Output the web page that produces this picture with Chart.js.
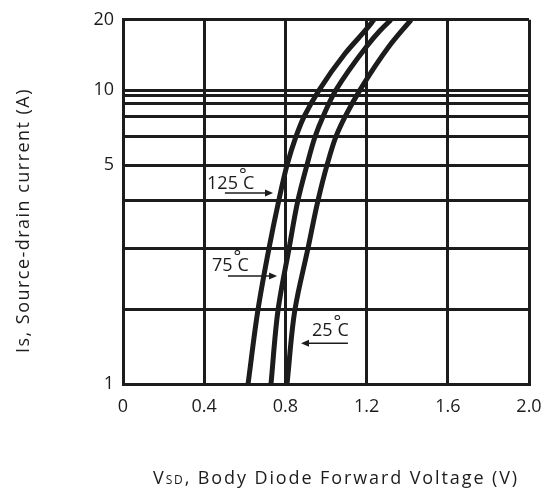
<!DOCTYPE html>
<html>
<head>
<meta charset="utf-8">
<script src="https://cdn.jsdelivr.net/npm/chart.js@4.4.1/dist/chart.umd.min.js"></script>
<style>
    body { margin: 0; background: #fff; }
    canvas { display: block; }
</style>
</head>
<body>
<canvas id="vfChart" width="544" height="488"></canvas>
<script>
// Body diode forward voltage vs source-drain current, three junction temperatures
const tempLabels = ['125', '75', '25'];

// forward voltage (V), with the matching current (A)
const vf125 = [0.616, 0.665, 0.719, 0.768, 0.808, 0.852, 0.892, 0.966, 1.094, 1.200, 1.236];
const is125 = [1, 2, 3, 4, 5, 6, 7, 10, 15.2, 18.7, 20];

const vf75 = [0.729, 0.764, 0.818, 0.862, 0.906, 0.946, 0.985, 1.049, 1.200, 1.261, 1.320];
const is75 = [1, 2, 3, 4, 5, 6, 7, 10, 16.2, 18.3, 20];

const vf25 = [0.808, 0.847, 0.911, 0.961, 1.005, 1.049, 1.094, 1.167, 1.310, 1.419];
const is25 = [1, 2, 3, 4, 5, 6, 7, 10, 16.2, 20];

const xTicks = [0, 0.4, 0.8, 1.2, 1.6, 2.0];
const yGrid = [1, 2, 3, 4, 5, 6, 7, 8, 9, 10, 20];
const yLabels = [1, 5, 10, 20];

// The datasheet's current axis is hand drawn: its rows are not evenly logarithmic,
// so the axis is warped piecewise through where each row sits (0 = bottom, 1 = top)
const yGridFractions = [0, 0.204, 0.372, 0.505, 0.601, 0.679, 0.734, 0.769, 0.793, 0.807, 1];

const ink = '#1c1c1c';
const fontFamily = '"Open Sans", "Noto Sans", sans-serif';

function interp(v, from, to) {
    let i = 1;
    while (i < from.length - 1 && v > from[i]) i++;
    const t = (v - from[i - 1]) / (from[i] - from[i - 1]);
    return to[i - 1] + t * (to[i] - to[i - 1]);
}

class WarpScale extends Chart.LinearScale {
    static id = 'warp';
    static defaults = Chart.LinearScale.defaults;

    getPixelForValue(value) {
        return this.getPixelForDecimal(interp(value, yGrid, yGridFractions));
    }

    getValueForPixel(pixel) {
        return interp(this.getDecimalForPixel(pixel), yGridFractions, yGrid);
    }
}
Chart.register(WarpScale);

function curve(vf, is) {
    return vf.map((v, i) => ({ x: v, y: is[i] }));
}

// temperature callouts, placed in data units
const notes = [
    { label: tempLabels[0], textV: 0.414, textI: 4.31, fromV: 0.502, toV: 0.739, arrowI: 4.2 },
    { label: tempLabels[1], textV: 0.438, textI: 2.63, fromV: 0.517, toV: 0.759, arrowI: 2.55 },
    { label: tempLabels[2], textV: 0.931, textI: 1.65, fromV: 1.108, toV: 0.877, arrowI: 1.55 }
];

function drawArrow(ctx, x0, x1, y) {
    const dir = x1 > x0 ? 1 : -1;
    ctx.lineWidth = 1.5;
    ctx.beginPath();
    ctx.moveTo(x0, y);
    ctx.lineTo(x1 - dir * 6, y);
    ctx.stroke();
    ctx.beginPath();
    ctx.moveTo(x1, y);
    ctx.lineTo(x1 - dir * 8, y - 3.5);
    ctx.lineTo(x1 - dir * 8, y + 3.5);
    ctx.closePath();
    ctx.fill();
}

// draws text pieces [text, size] spread to a given width
function drawSpread(ctx, pieces, left, baseline, width) {
    let natural = 0, chars = 0;
    ctx.letterSpacing = '0px';
    pieces.forEach(p => {
        ctx.font = p[1] + 'px ' + fontFamily;
        natural += ctx.measureText(p[0]).width;
        chars += p[0].length;
    });
    const ls = Math.max(-1, (width - natural) / chars);
    ctx.letterSpacing = ls + 'px';
    let x = left;
    pieces.forEach(p => {
        ctx.font = p[1] + 'px ' + fontFamily;
        ctx.fillText(p[0], x, baseline);
        x += ctx.measureText(p[0]).width;
    });
    ctx.letterSpacing = '0px';
}

const notePlugin = {
    id: 'notes',
    afterDraw(chart) {
        const { ctx, scales: { x, y } } = chart;
        ctx.save();
        ctx.fillStyle = ink;
        ctx.strokeStyle = ink;
        ctx.textAlign = 'left';
        ctx.textBaseline = 'alphabetic';

        notes.forEach(n => {
            const tx = x.getPixelForValue(n.textV);
            const ty = y.getPixelForValue(n.textI);
            ctx.font = '18px ' + fontFamily;
            ctx.fillText(n.label, tx, ty);
            const w = ctx.measureText(n.label).width;
            ctx.fillText('°', tx + w + 1, ty - 8);
            ctx.fillText('C', tx + w + 5, ty);
            drawArrow(ctx, x.getPixelForValue(n.fromV), x.getPixelForValue(n.toV), y.getPixelForValue(n.arrowI));
        });

        // axis titles
        drawSpread(ctx, [['V', 18], ['SD', 12], [', Body Diode Forward Voltage (V)', 18]], 153, 484, 366);

        ctx.save();
        ctx.translate(29, 353);
        ctx.rotate(-Math.PI / 2);
        drawSpread(ctx, [['Is, Source-drain current (A)', 18]], 0, 0, 265);
        ctx.restore();

        ctx.restore();
    }
};

// the curves are steep, so interpolate them along the current axis
const lineStyle = {
    indexAxis: 'y',
    borderColor: ink,
    borderWidth: 5,
    borderCapStyle: 'butt',
    pointRadius: 0,
    cubicInterpolationMode: 'monotone',
    fill: false,
    clip: 0
};

new Chart(document.getElementById('vfChart'), {
    type: 'line',
    data: {
        datasets: [
            Object.assign({ label: tempLabels[0] + '°C', data: curve(vf125, is125) }, lineStyle),
            Object.assign({ label: tempLabels[1] + '°C', data: curve(vf75, is75) }, lineStyle),
            Object.assign({ label: tempLabels[2] + '°C', data: curve(vf25, is25) }, lineStyle)
        ]
    },
    options: {
        responsive: false,
        animation: false,
        layout: { padding: { top: 16, right: 15, left: 0, bottom: 0 } },
        plugins: {
            legend: { display: false },
            tooltip: { enabled: false }
        },
        scales: {
            x: {
                type: 'linear',
                min: 0,
                max: 2,
                afterBuildTicks: s => { s.ticks = xTicks.map(v => ({ value: v })); },
                afterFit: s => { s.height = 104; },
                grid: { color: ink, lineWidth: 3, drawTicks: true, tickLength: 12, tickColor: 'rgba(0,0,0,0)' },
                border: { color: ink, width: 3 },
                ticks: {
                    padding: 0,
                    color: ink,
                    font: { family: fontFamily, size: 18 },
                    maxRotation: 0,
                    autoSkip: false,
                    callback: v => v === 0 ? '0' : v.toFixed(1)
                }
            },
            y: {
                type: 'warp',
                min: 1,
                max: 20,
                afterBuildTicks: s => { s.ticks = yGrid.map(v => ({ value: v })); },
                afterFit: s => { s.width = 123; },
                grid: { color: ink, lineWidth: 3, drawTicks: false },
                border: { color: ink, width: 3 },
                ticks: {
                    padding: 9,
                    color: ink,
                    font: { family: fontFamily, size: 18 },
                    autoSkip: false,
                    callback: v => yLabels.includes(v) ? String(v) : ''
                }
            }
        }
    },
    plugins: [notePlugin]
});
</script>
</body>
</html>
